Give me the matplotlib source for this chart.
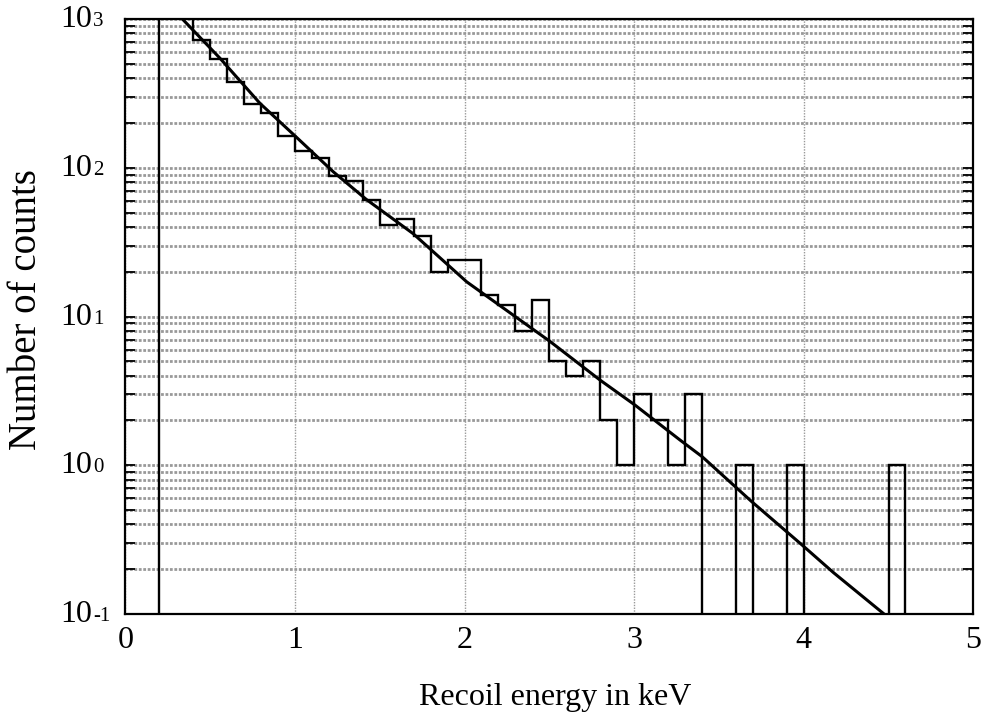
import numpy as np
import matplotlib.pyplot as plt
from matplotlib.ticker import LogLocator, NullFormatter

plt.rcParams['font.family'] = ['Liberation Serif', 'DejaVu Serif']

# histogram: counts per 0.1 keV bin, from 0.2 keV to 5.0 keV
bin_edges = np.round(np.arange(0.2, 5.0001, 0.1), 1)
counts = [1300, 1050, 723, 536, 379, 267, 234, 164, 130, 116,
          88, 82, 61, 41, 45, 35, 20, 24, 24, 14,
          12, 8, 13, 5, 4, 5, 2, 1, 3, 2,
          1, 3, 0, 0, 1, 0, 0, 1, 0, 0,
          0, 0, 0, 1, 0, 0, 0, 0]

# fitted curve
curve_x = [0.32, 0.342, 0.558, 0.794, 1.005, 1.226, 1.423, 1.698, 2.013,
           2.504, 2.799, 3.005, 3.27, 3.402, 3.693, 3.992, 4.175, 4.469]
curve_y = [1050, 985, 545, 271, 162, 94, 61, 36, 17.1,
           6.8, 3.74, 2.54, 1.48, 1.14, 0.57, 0.29, 0.19, 0.101]

y_decades = [-1, 0, 1, 2, 3]
x_ticks = [0, 1, 2, 3, 4, 5]

fig = plt.figure(figsize=(9.82, 7.13), dpi=100)
ax = fig.add_axes([125.3 / 982, 1 - 614 / 713, 848 / 982, 595 / 713])
ax.set_yscale('log')
ax.set_xlim(0, 5)
ax.set_ylim(0.1, 1000)

floor = 1e-3
shown = np.where(np.array(counts) > 0, counts, floor)
ax.stairs(shown, bin_edges, baseline=floor, fill=False, color='black', lw=1.7)
ax.plot(curve_x, curve_y, color='black', lw=2.2)

ax.yaxis.set_minor_locator(LogLocator(base=10, subs=range(2, 10)))
ax.yaxis.set_minor_formatter(NullFormatter())
ax.set_axisbelow(True)
ax.grid(True, which='both', axis='y', color='0.6', ls=(0, (1, 0.6)), lw=2.0)
ax.grid(True, which='major', axis='x', color='0.6', ls=(0, (1, 1)), lw=1.0)

ax.set_xticks(x_ticks)
ax.set_xticklabels([str(t) for t in x_ticks])
ax.tick_params(axis='x', length=0, pad=9, labelsize=23)
ax.tick_params(axis='y', which='both', direction='in', length=7.5, width=1.3,
               left=True, right=True, labelleft=False)
for s in ax.spines.values():
    s.set_linewidth(1.6)

for d in y_decades:
    ax.annotate('10', xy=(0, 10.0 ** d), xycoords=('axes fraction', 'data'),
                xytext=(-33, -8), textcoords='offset pixels',
                ha='right', va='baseline', fontsize=23)
    ax.annotate(str(d), xy=(0, 10.0 ** d), xycoords=('axes fraction', 'data'),
                xytext=(-32, -7), textcoords='offset pixels',
                ha='left', va='baseline', fontsize=15)

fig.text(555 / 982, 1 - 705 / 713, 'Recoil energy in keV', ha='center',
         va='baseline', fontsize=23)
fig.text(27 / 982, 1 - 310 / 713, 'Number of counts', rotation=90,
         ha='center', va='center', fontsize=28)

fig.savefig('out.png', dpi=100)
